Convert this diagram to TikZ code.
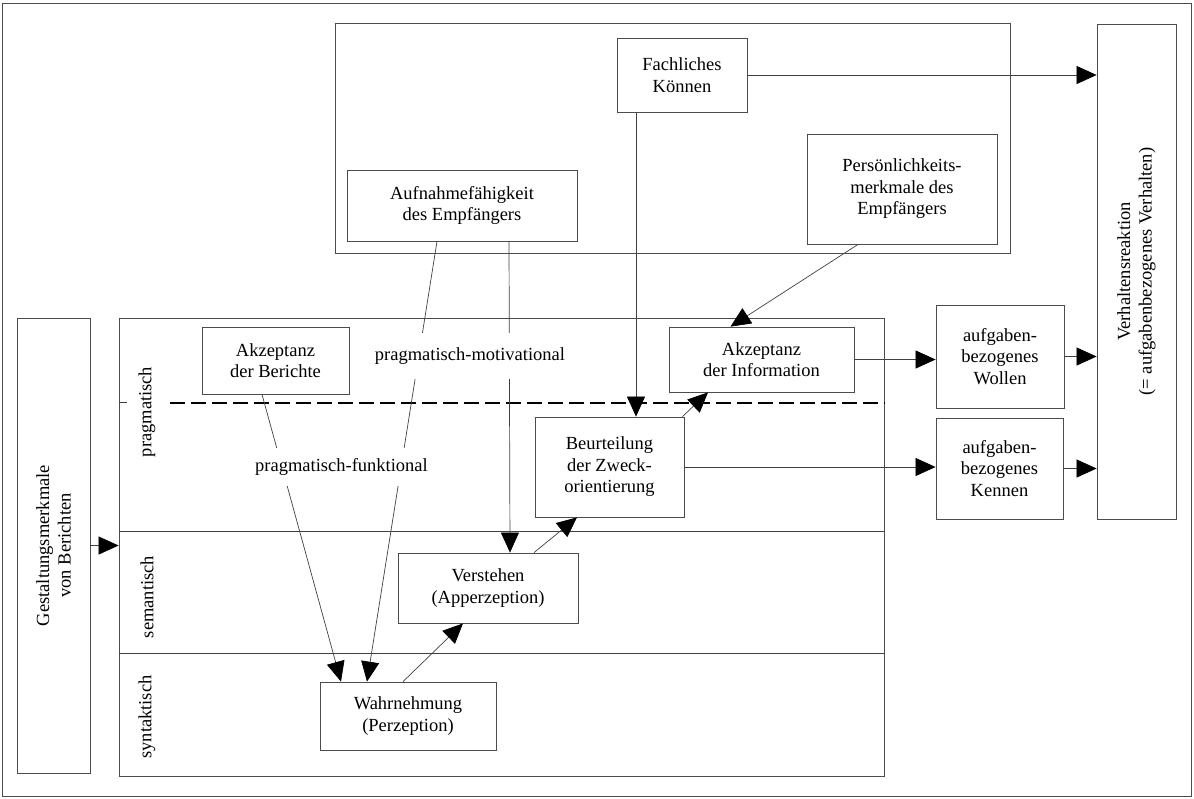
\documentclass[tikz,border=0pt]{standalone}
\usepackage{fontspec}
\setmainfont{Liberation Serif}
\usepackage{tikz}
\usetikzlibrary{arrows.meta}

\begin{document}
\begin{tikzpicture}[x=1pt, y=-1pt,
    font=\fontsize{18.5}{21.5}\selectfont,
    kasten/.style={draw=black!70, line width=0.8pt, align=center, inner sep=0pt},
    linie/.style={draw=black!75, line width=0.7pt},
    pfeil/.style={linie, -{Triangle[length=20pt,width=18pt,color=black]}},
    marke/.style={fill=white, inner xsep=2pt}]
    \useasboundingbox (0,0) rectangle (1194,798);
    \draw[black!70, line width=0.8pt] (2,3) rectangle (1191,796);

    % Rahmen
    \node[kasten, minimum width=675, minimum height=230] (umfeld) at (672.5,138) {};
    \node[kasten, minimum width=765, minimum height=458] (ebenen) at (501.5,547) {};
    \draw[linie] (ebenen.west |- 0,531) -- (ebenen.east |- 0,531);
    \draw[linie] (ebenen.west |- 0,653) -- (ebenen.east |- 0,653);
    \draw[linie] (ebenen.west |- 0,402) -- ++(8,0);
    \draw[black, line width=2.5pt, dash pattern=on 15pt off 6pt] (170,403) -- (ebenen.east |- 0,403);

    \node[rotate=90] (prag) at (147,412) {pragmatisch};
    \node[rotate=90] (sem) at (147,597) {semantisch};
    \node[rotate=90] (syn) at (147,717) {syntaktisch};

    % Kaesten
    \node[kasten, minimum width=130, minimum height=74] (fach) at (682,75) {Fachliches\\Können};
    \node[kasten, minimum width=230, minimum height=71] (auf) at (462,205.5) {Aufnahmefähigkeit\\des Empfängers};
    \node[kasten, minimum width=190, minimum height=110] (pers) at (902,189) {Persönlichkeits-\\merkmale des\\Empfängers};
    \node[kasten, minimum width=147, minimum height=67] (bericht) at (275.5,360.5) {Akzeptanz\\der Berichte};
    \node[kasten, minimum width=185, minimum height=65] (info) at (761.5,359.5) {Akzeptanz\\der Information};
    \node[kasten, minimum width=149, minimum height=100] (beurt) at (609.5,467) {Beurteilung\\der Zweck-\\orientierung};
    \node[kasten, minimum width=180, minimum height=70] (vers) at (488,588) {Verstehen\\(Apperzeption)};
    \node[kasten, minimum width=176, minimum height=68] (wahr) at (408,716) {Wahrnehmung\\(Perzeption)};
    \node[kasten, minimum width=128, minimum height=103] (wollen) at (1000,356.5) {aufgaben-\\bezogenes\\Wollen};
    \node[kasten, minimum width=127, minimum height=101] (kennen) at (999.5,468.5) {aufgaben-\\bezogenes\\Kennen};
    \node[kasten, rotate=90, minimum width=495, minimum height=79] (verh) at (1136.5,271.5) {Verhaltensreaktion\\(= aufgabenbezogenes Verhalten)};
    \node[kasten, rotate=90, minimum width=455, minimum height=73] (gest) at (53.5,545.5) {Gestaltungsmerkmale\\von Berichten};

    % Pfeile
    \draw[pfeil] (fach.east) -- (fach.east -| verh.north);
    \draw[pfeil] ([xshift=-46pt]fach.south) -- ([xshift=26.5pt]beurt.north);
    \draw[pfeil] ([xshift=-44pt]pers.south) -- ([xshift=-31pt]info.north);
    \draw[pfeil] ([xshift=-25pt]auf.south) -- ([xshift=-41pt]wahr.north);
    \draw[pfeil] ([xshift=47pt]auf.south) -- ([xshift=22pt]vers.north);
    \draw[pfeil] ([xshift=-13.5pt]bericht.south) -- ([xshift=-67pt]wahr.north);
    \draw[pfeil] ([xshift=-5pt]wahr.north) -- ([xshift=-25pt]vers.south);
    \draw[pfeil] ([xshift=46pt]vers.north) -- ([xshift=-32.5pt]beurt.south);
    \draw[pfeil] ([xshift=-2pt]beurt.north east) -- ([xshift=-53.5pt]info.south);
    \draw[pfeil] (info.east) -- (info.east -| wollen.west);
    \draw[pfeil] (beurt.east) -- (beurt.east -| kennen.west);
    \draw[pfeil] (wollen.east) -- (wollen.east -| verh.north);
    \draw[pfeil] (kennen.east) -- (kennen.east -| verh.north);
    \draw[pfeil] (gest.south) -- (gest.south -| ebenen.west);

    % Beschriftungen
    \node[marke, inner ysep=15pt] (motiv) at (470,356) {pragmatisch-motivational};
    \node[marke, inner ysep=10pt] (funkt) at (341.5,467) {pragmatisch-funktional};
\end{tikzpicture}
\end{document}
